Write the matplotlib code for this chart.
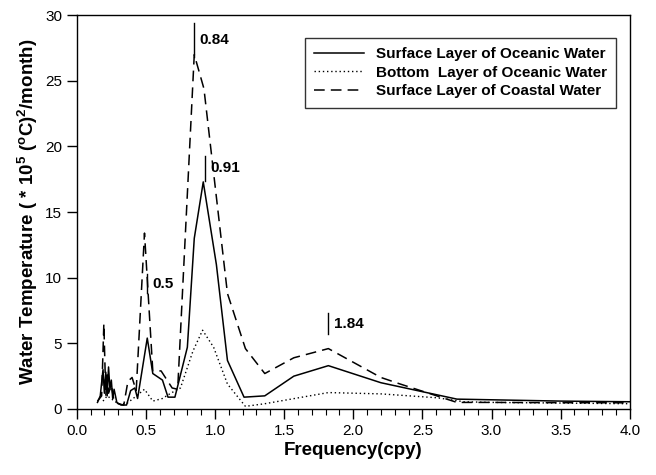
import matplotlib
matplotlib.use('Agg')
import matplotlib.pyplot as plt
from matplotlib.ticker import MultipleLocator

plt.rcParams['font.family'] = ['Liberation Sans', 'DejaVu Sans']
plt.rcParams['mathtext.fontset'] = 'custom'
plt.rcParams['mathtext.rm'] = 'Liberation Sans:bold'
plt.rcParams['mathtext.it'] = 'Liberation Sans:bold'
plt.rcParams['mathtext.bf'] = 'Liberation Sans:bold'

# spectra: frequency (cpy) and power
surf_ocean_f = [0.15, 0.17, 0.19, 0.20, 0.21, 0.22, 0.23, 0.24, 0.25, 0.26, 0.27, 0.29,
                0.32, 0.36, 0.39, 0.42, 0.44, 0.51, 0.55, 0.62, 0.66, 0.71, 0.80, 0.85,
                0.915, 1.01, 1.09, 1.21, 1.36, 1.57, 1.82, 2.20, 2.75, 3.0, 3.5, 4.0]
surf_ocean_v = [0.5, 1.0, 3.0, 1.2, 2.8, 1.0, 3.2, 1.5, 2.2, 0.8, 1.5, 0.5,
                0.3, 0.3, 1.4, 1.6, 0.8, 5.4, 2.7, 2.2, 0.9, 0.9, 4.7, 13.0,
                17.3, 11.0, 3.7, 0.9, 1.0, 2.5, 3.3, 2.0, 0.75, 0.7, 0.6, 0.55]

bottom_ocean_f = [0.19, 0.22, 0.26, 0.30, 0.36, 0.42, 0.49, 0.55, 0.62, 0.68, 0.75, 0.84,
                  0.91, 0.99, 1.09, 1.22, 1.36, 1.82, 2.20, 2.61, 2.8, 3.0, 3.5, 4.0]
bottom_ocean_v = [0.6, 1.0, 0.7, 0.4, 0.4, 0.9, 1.5, 0.6, 0.8, 1.2, 1.6, 4.4,
                  6.0, 4.7, 1.9, 0.2, 0.4, 1.25, 1.15, 0.85, 0.55, 0.5, 0.45, 0.4]

coastal_f = [0.15, 0.18, 0.196, 0.21, 0.22, 0.23, 0.25, 0.27, 0.30, 0.34, 0.37, 0.40,
             0.43, 0.49, 0.55, 0.61, 0.69, 0.73, 0.85, 0.92, 1.09, 1.22, 1.36, 1.57,
             1.82, 2.20, 2.34, 2.75, 3.0, 3.5, 4.0]
coastal_v = [0.6, 1.0, 6.5, 1.0, 2.6, 1.2, 1.8, 0.6, 0.4, 0.3, 2.1, 2.4,
             1.4, 13.4, 2.9, 2.9, 1.6, 1.5, 27.0, 24.4, 8.8, 4.6, 2.7, 3.9,
             4.6, 2.4, 1.9, 0.5, 0.5, 0.48, 0.47]

peak_f = [0.848, 0.93, 0.507, 1.82]
peak_lo = [26.8, 17.4, 8.8, 5.7]
peak_hi = [29.4, 19.3, 10.3, 7.3]
peak_labels = ['0.84', '0.91', '0.5', '1.84']

fig = plt.figure(figsize=(6.56, 4.75), dpi=100)
ax = fig.add_axes([0.117, 0.139, 0.843, 0.829])

ax.plot(surf_ocean_f, surf_ocean_v, color='black', lw=1.1, ls='-',
        label='Surface Layer of Oceanic Water')
ax.plot(bottom_ocean_f, bottom_ocean_v, color='black', lw=1.0, ls=(0, (1, 2)),
        label='Bottom  Layer of Oceanic Water')
ax.plot(coastal_f, coastal_v, color='black', lw=1.1, ls=(0, (7, 4)),
        label='Surface Layer of Coastal Water')

for f, lo, hi, lab in zip(peak_f, peak_lo, peak_hi, peak_labels):
    ax.plot([f, f], [lo, hi], color='black', lw=1.0)
    ax.text(f + 0.04, (lo + hi) / 2, lab, fontsize=11, fontweight='bold',
            va='center', ha='left')

ax.set_xlim(0, 4)
ax.set_ylim(0, 30)
ax.xaxis.set_major_locator(MultipleLocator(0.5))
ax.xaxis.set_minor_locator(MultipleLocator(0.1))
ax.yaxis.set_major_locator(MultipleLocator(5))
ax.xaxis.set_major_formatter(matplotlib.ticker.FormatStrFormatter('%.1f'))
ax.tick_params(which='major', direction='out', length=7, width=1, labelsize=11)
ax.tick_params(which='minor', direction='out', length=4, width=0.8)
for s in ax.spines.values():
    s.set_linewidth(1.0)

ax.set_xlabel('Frequency(cpy)', fontsize=13.5, fontweight='bold', labelpad=3)
ax.set_ylabel('Water Temperature ( * 10$^{5}$ ($^{o}$C)$^{2}$/month)',
              fontsize=13.5, fontweight='bold', labelpad=4)

leg = ax.legend(loc='upper right', bbox_to_anchor=(0.976, 0.942), frameon=True,
                fancybox=False, edgecolor='black', handlelength=3.3,
                prop={'weight': 'bold', 'size': 11}, borderpad=0.6,
                labelspacing=0.3, borderaxespad=0)
leg.get_frame().set_linewidth(1.0)

fig.savefig('out.png', dpi=100)
